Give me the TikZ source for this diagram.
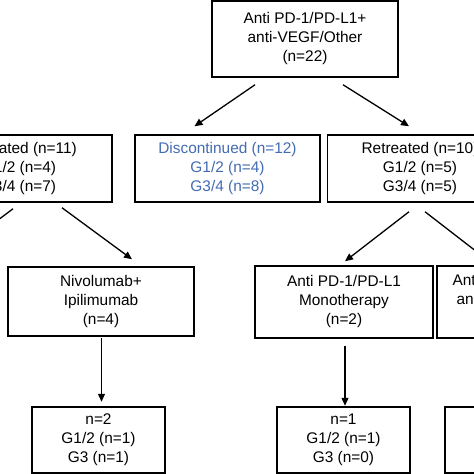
\documentclass[tikz,border=0pt]{standalone}
\usepackage{fontspec}
\setmainfont{Liberation Sans}
\usetikzlibrary{arrows.meta}
\definecolor{discblue}{RGB}{68,108,179}
\begin{document}
\begin{tikzpicture}[x=1pt,y=-1pt,
  box/.style={draw, line width=1.5pt, inner sep=0pt, align=center,
    font=\fontsize{15.4}{19}\selectfont},
  arr/.style={line width=1.3pt, -{Triangle[length=8pt,width=7pt]}}]
\useasboundingbox (0,0) rectangle (474,474);
\clip (0,0) rectangle (474,474);
\fill[white] (0,0) rectangle (474,474);
% top
\node[box, minimum width=186pt, minimum height=76pt] (top) at (305,39)
  {Anti PD-1/PD-L1+\\anti-VEGF/Other\\(n=22)};
% middle row
\node[box, minimum width=186pt, minimum height=67pt] (L) at (19,168.5)
  {Retreated (n=11)\\G1/2 (n=4)\\G3/4 (n=7)};
\node[box, minimum width=185pt, minimum height=67pt, text=discblue] (D) at (227.5,168.5)
  {Discontinued (n=12)\\G1/2 (n=4)\\G3/4 (n=8)};
\node[box, minimum width=185pt, minimum height=67pt] (R) at (420,168.5)
  {Retreated (n=10)\\G1/2 (n=5)\\G3/4 (n=5)};
% third row
\node[box, minimum width=186pt, minimum height=69pt] (Niv) at (101,301.5)
  {Nivolumab+\\Ipilimumab\\(n=4)};
\node[box, minimum width=178pt, minimum height=72pt] (Mono) at (344,302)
  {Anti PD-1/PD-L1\\Monotherapy\\(n=2)};
\node[box, minimum width=154pt, minimum height=72pt] (Combo) at (514,302)
  {Anti PD-1/PD-L1+\\anti-VEGF/Other\\\strut};
% bottom row
\node[box, minimum width=133pt, minimum height=66pt] (BL) at (98.5,440)
  {n=2\\G1/2 (n=1)\\G3 (n=1)};
\node[box, minimum width=133pt, minimum height=66pt] (BM) at (343.5,440)
  {n=1\\G1/2 (n=1)\\G3 (n=0)};
\node[box, minimum width=133pt, minimum height=66pt] (BR) at (511.5,440) {};
% connector end points
\path (top.south) ++(-50,7) coordinate (t1s);
\path (D.north) ++(-33,-8) coordinate (t1e);
\path (top.south) ++(38,7) coordinate (t2s);
\path (R.north) ++(-11,-8) coordinate (t2e);
\path (L.south) ++(43,5) coordinate (l1s);
\path (Niv.north) ++(31,-7) coordinate (l1e);
\path (L.south) ++(-6,6) coordinate (l2s);
\coordinate (l2e) at (-55,260);
\path (R.south) ++(-11,9) coordinate (r1s);
\path (Mono.north) ++(1,-4) coordinate (r1e);
\path (R.south) ++(5,9) coordinate (r2s);
\coordinate (r2e) at (490,262);
\path (Niv.south) ++(0.5,1) coordinate (n1s);
\path (Niv.south) ++(0.5,65) coordinate (n1e);
\path (Mono.south) ++(1,7) coordinate (m1s);
\path (Mono.south) ++(1,67) coordinate (m1e);
% connectors
\draw[arr] (t1s) -- (t1e);
\draw[arr] (t2s) -- (t2e);
\draw[arr] (l1s) -- (l1e);
\draw[arr] (l2s) -- (l2e);
\draw[arr] (r1s) -- (r1e);
\draw[arr] (r2s) -- (r2e);
\draw[arr] (n1s) -- (n1e);
\draw[arr] (m1s) -- (m1e);
\end{tikzpicture}
\end{document}
